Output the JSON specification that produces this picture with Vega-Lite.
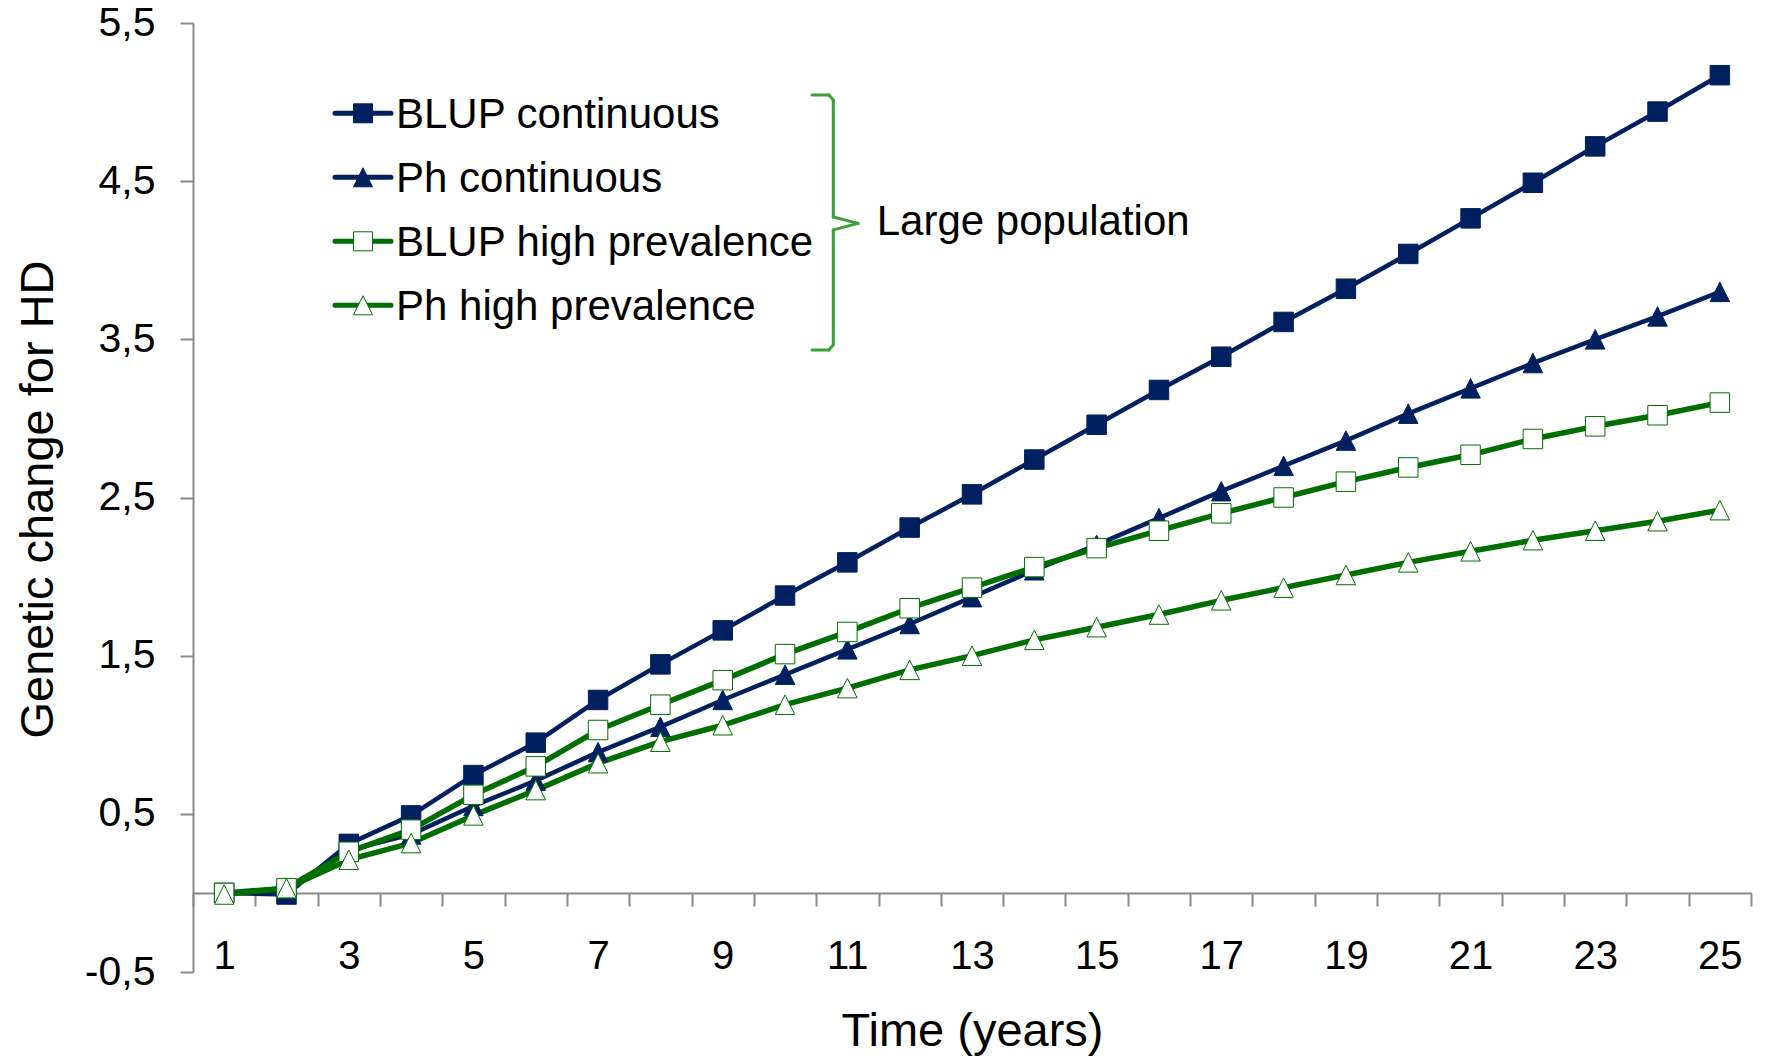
{
  "$schema": "https://vega.github.io/schema/vega-lite/v6.json",
  "width": 1558,
  "height": 949,
  "autosize": {"type": "none"},
  "padding": {"left": 193, "top": 23, "right": 15, "bottom": 85},
  "config": {"view": {"stroke": null}, "font": "Liberation Sans"},
  "data": {"values": [
    {"s":"BLUP continuous","t":1,"v":0},{"s":"BLUP continuous","t":2,"v":-0.01},{"s":"BLUP continuous","t":3,"v":0.31},{"s":"BLUP continuous","t":4,"v":0.49},{"s":"BLUP continuous","t":5,"v":0.745},{"s":"BLUP continuous","t":6,"v":0.95},{"s":"BLUP continuous","t":7,"v":1.22},{"s":"BLUP continuous","t":8,"v":1.445},{"s":"BLUP continuous","t":9,"v":1.66},{"s":"BLUP continuous","t":10,"v":1.88},{"s":"BLUP continuous","t":11,"v":2.09},{"s":"BLUP continuous","t":12,"v":2.31},{"s":"BLUP continuous","t":13,"v":2.52},{"s":"BLUP continuous","t":14,"v":2.74},{"s":"BLUP continuous","t":15,"v":2.96},{"s":"BLUP continuous","t":16,"v":3.18},{"s":"BLUP continuous","t":17,"v":3.39},{"s":"BLUP continuous","t":18,"v":3.61},{"s":"BLUP continuous","t":19,"v":3.82},{"s":"BLUP continuous","t":20,"v":4.04},{"s":"BLUP continuous","t":21,"v":4.265},{"s":"BLUP continuous","t":22,"v":4.49},{"s":"BLUP continuous","t":23,"v":4.72},{"s":"BLUP continuous","t":24,"v":4.94},{"s":"BLUP continuous","t":25,"v":5.17},
    {"s":"Ph continuous","t":1,"v":0},{"s":"Ph continuous","t":2,"v":0.01},{"s":"Ph continuous","t":3,"v":0.27},{"s":"Ph continuous","t":4,"v":0.37},{"s":"Ph continuous","t":5,"v":0.55},{"s":"Ph continuous","t":6,"v":0.71},{"s":"Ph continuous","t":7,"v":0.89},{"s":"Ph continuous","t":8,"v":1.05},{"s":"Ph continuous","t":9,"v":1.22},{"s":"Ph continuous","t":10,"v":1.38},{"s":"Ph continuous","t":11,"v":1.54},{"s":"Ph continuous","t":12,"v":1.7},{"s":"Ph continuous","t":13,"v":1.87},{"s":"Ph continuous","t":14,"v":2.04},{"s":"Ph continuous","t":15,"v":2.2},{"s":"Ph continuous","t":16,"v":2.37},{"s":"Ph continuous","t":17,"v":2.54},{"s":"Ph continuous","t":18,"v":2.7},{"s":"Ph continuous","t":19,"v":2.86},{"s":"Ph continuous","t":20,"v":3.03},{"s":"Ph continuous","t":21,"v":3.19},{"s":"Ph continuous","t":22,"v":3.35},{"s":"Ph continuous","t":23,"v":3.5},{"s":"Ph continuous","t":24,"v":3.645},{"s":"Ph continuous","t":25,"v":3.8},
    {"s":"BLUP high prevalence","t":1,"v":0},{"s":"BLUP high prevalence","t":2,"v":0.03},{"s":"BLUP high prevalence","t":3,"v":0.26},{"s":"BLUP high prevalence","t":4,"v":0.4},{"s":"BLUP high prevalence","t":5,"v":0.62},{"s":"BLUP high prevalence","t":6,"v":0.8},{"s":"BLUP high prevalence","t":7,"v":1.03},{"s":"BLUP high prevalence","t":8,"v":1.19},{"s":"BLUP high prevalence","t":9,"v":1.345},{"s":"BLUP high prevalence","t":10,"v":1.51},{"s":"BLUP high prevalence","t":11,"v":1.65},{"s":"BLUP high prevalence","t":12,"v":1.8},{"s":"BLUP high prevalence","t":13,"v":1.93},{"s":"BLUP high prevalence","t":14,"v":2.06},{"s":"BLUP high prevalence","t":15,"v":2.18},{"s":"BLUP high prevalence","t":16,"v":2.29},{"s":"BLUP high prevalence","t":17,"v":2.4},{"s":"BLUP high prevalence","t":18,"v":2.5},{"s":"BLUP high prevalence","t":19,"v":2.6},{"s":"BLUP high prevalence","t":20,"v":2.69},{"s":"BLUP high prevalence","t":21,"v":2.77},{"s":"BLUP high prevalence","t":22,"v":2.87},{"s":"BLUP high prevalence","t":23,"v":2.95},{"s":"BLUP high prevalence","t":24,"v":3.02},{"s":"BLUP high prevalence","t":25,"v":3.1},
    {"s":"Ph high prevalence","t":1,"v":-0.01},{"s":"Ph high prevalence","t":2,"v":0.03},{"s":"Ph high prevalence","t":3,"v":0.21},{"s":"Ph high prevalence","t":4,"v":0.315},{"s":"Ph high prevalence","t":5,"v":0.49},{"s":"Ph high prevalence","t":6,"v":0.65},{"s":"Ph high prevalence","t":7,"v":0.82},{"s":"Ph high prevalence","t":8,"v":0.956},{"s":"Ph high prevalence","t":9,"v":1.06},{"s":"Ph high prevalence","t":10,"v":1.19},{"s":"Ph high prevalence","t":11,"v":1.295},{"s":"Ph high prevalence","t":12,"v":1.41},{"s":"Ph high prevalence","t":13,"v":1.5},{"s":"Ph high prevalence","t":14,"v":1.6},{"s":"Ph high prevalence","t":15,"v":1.68},{"s":"Ph high prevalence","t":16,"v":1.76},{"s":"Ph high prevalence","t":17,"v":1.85},{"s":"Ph high prevalence","t":18,"v":1.93},{"s":"Ph high prevalence","t":19,"v":2.01},{"s":"Ph high prevalence","t":20,"v":2.09},{"s":"Ph high prevalence","t":21,"v":2.16},{"s":"Ph high prevalence","t":22,"v":2.23},{"s":"Ph high prevalence","t":23,"v":2.29},{"s":"Ph high prevalence","t":24,"v":2.35},{"s":"Ph high prevalence","t":25,"v":2.42}
  ]},
  "layer": [
    {
      "layer": [
        {
          "transform": [{"filter": "indexof(['BLUP continuous','Ph continuous'], datum.s) >= 0"}],
          "mark": {"type": "line", "strokeWidth": 4.5, "strokeJoin": "round", "strokeCap": "round"},
          "encoding": {
            "x": {"field": "t", "type": "quantitative",
              "scale": {"domain": [0.5, 25.5], "nice": false, "zero": false},
              "axis": {
                "values": [0.5,1,1.5,2.5,3,3.5,4.5,5,5.5,6.5,7,7.5,8.5,9,9.5,10.5,11,11.5,12.5,13,13.5,14.5,15,15.5,16.5,17,17.5,18.5,19,19.5,20.5,21,21.5,22.5,23,23.5,24.5,25,25.5],
                "labelExpr": "datum.value % 1 === 0 ? toString(datum.value) : ''",
                "tickOpacity": {"condition": {"test": "datum.value % 1 === 0", "value": 0}, "value": 1},
                "offset": -79,
                "grid": false,
                "tickSize": 13, "tickWidth": 2, "tickColor": "#898989",
                "domainColor": "#898989", "domainWidth": 2,
                "labelFont": "Liberation Sans", "labelFontSize": 40, "labelColor": "black",
                "labelPadding": 30, "labelFlush": false, "labelOverlap": false, "labelBound": false,
                "title": "Time (years)", "titleFont": "Liberation Sans", "titleFontSize": 47,
                "titleFontWeight": "normal", "titleColor": "black",
                "titleX": 779, "titleY": 152, "titleBaseline": "alphabetic", "titleAlign": "center"
              }},
            "y": {"field": "v", "type": "quantitative",
              "scale": {"domain": [-0.5, 5.5], "nice": false, "zero": false},
              "axis": {
                "values": [-0.5, 0.5, 1.5, 2.5, 3.5, 4.5, 5.5],
                "labelExpr": "replace(toString(datum.value), '.', ',')",
                "grid": false,
                "tickSize": 13, "tickWidth": 2, "tickColor": "#898989",
                "domainColor": "#898989", "domainWidth": 2,
                "labelFont": "Liberation Sans", "labelFontSize": 41, "labelColor": "black",
                "labelPadding": 25,
                "title": "Genetic change for HD", "titleFont": "Liberation Sans", "titleFontSize": 47,
                "titleFontWeight": "normal", "titleColor": "black",
                "titleX": -141, "titleY": 476, "titleBaseline": "alphabetic", "titleAlign": "center"
              }},
            "stroke": {"field": "s", "type": "nominal",
              "scale": {"domain": ["BLUP continuous", "Ph continuous", "BLUP high prevalence", "Ph high prevalence"],
                        "range": ["#002060", "#002060", "#006E00", "#006E00"]},
              "legend": null}
          }
        },
        {
          "transform": [{"filter": "indexof(['BLUP high prevalence','Ph high prevalence'], datum.s) >= 0"}],
          "mark": {"type": "line", "strokeWidth": 5.5, "strokeJoin": "round", "strokeCap": "round"},
          "encoding": {
            "x": {"field": "t", "type": "quantitative"},
            "y": {"field": "v", "type": "quantitative"},
            "stroke": {"field": "s", "type": "nominal", "legend": null}
          }
        },
        {
          "mark": {"type": "point", "filled": true, "opacity": 1, "size": 380},
          "encoding": {
            "x": {"field": "t", "type": "quantitative"},
            "y": {"field": "v", "type": "quantitative"},
            "stroke": {"field": "s", "type": "nominal", "legend": null},
            "fill": {"field": "s", "type": "nominal",
              "scale": {"domain": ["BLUP continuous", "Ph continuous", "BLUP high prevalence", "Ph high prevalence"],
                        "range": ["#002060", "#002060", "#ffffff", "#ffffff"]},
              "legend": null},
            "shape": {"field": "s", "type": "nominal",
              "scale": {"domain": ["BLUP continuous", "Ph continuous", "BLUP high prevalence", "Ph high prevalence"],
                        "range": ["square", "M0,-1L1,1L-1,1Z", "square", "M0,-1L1,1L-1,1Z"]},
              "legend": null},
            "strokeWidth": {"field": "s", "type": "ordinal",
              "scale": {"domain": ["BLUP continuous", "Ph continuous", "BLUP high prevalence", "Ph high prevalence"],
                        "range": [1, 1, 2, 2]},
              "legend": null}
          }
        },
        {"data": {"values": [{}]}, "mark": {"type": "rule", "color": "#3A9E3A", "strokeWidth": 3, "strokeCap": "round"},
         "encoding": {"x": {"datum": 10.432}, "x2": {"datum": 10.705}, "y": {"datum": 5.045}, "y2": {"datum": 5.045}}},
        {"data": {"values": [{}]}, "mark": {"type": "rule", "color": "#3A9E3A", "strokeWidth": 3, "strokeCap": "round"},
         "encoding": {"x": {"datum": 10.705}, "x2": {"datum": 10.774}, "y": {"datum": 5.045}, "y2": {"datum": 5.013}}},
        {"data": {"values": [{}]}, "mark": {"type": "rule", "color": "#3A9E3A", "strokeWidth": 3, "strokeCap": "round"},
         "encoding": {"x": {"datum": 10.774}, "x2": {"datum": 10.774}, "y": {"datum": 5.013}, "y2": {"datum": 4.273}}},
        {"data": {"values": [{}]}, "mark": {"type": "rule", "color": "#3A9E3A", "strokeWidth": 3, "strokeCap": "round"},
         "encoding": {"x": {"datum": 10.774}, "x2": {"datum": 11.171}, "y": {"datum": 4.273}, "y2": {"datum": 4.233}}},
        {"data": {"values": [{}]}, "mark": {"type": "rule", "color": "#3A9E3A", "strokeWidth": 3, "strokeCap": "round"},
         "encoding": {"x": {"datum": 11.171}, "x2": {"datum": 10.774}, "y": {"datum": 4.233}, "y2": {"datum": 4.192}}},
        {"data": {"values": [{}]}, "mark": {"type": "rule", "color": "#3A9E3A", "strokeWidth": 3, "strokeCap": "round"},
         "encoding": {"x": {"datum": 10.774}, "x2": {"datum": 10.774}, "y": {"datum": 4.192}, "y2": {"datum": 3.465}}},
        {"data": {"values": [{}]}, "mark": {"type": "rule", "color": "#3A9E3A", "strokeWidth": 3, "strokeCap": "round"},
         "encoding": {"x": {"datum": 10.774}, "x2": {"datum": 10.705}, "y": {"datum": 3.465}, "y2": {"datum": 3.433}}},
        {"data": {"values": [{}]}, "mark": {"type": "rule", "color": "#3A9E3A", "strokeWidth": 3, "strokeCap": "round"},
         "encoding": {"x": {"datum": 10.705}, "x2": {"datum": 10.432}, "y": {"datum": 3.433}, "y2": {"datum": 3.433}}},
        {"data": {"values": [{}]}, "mark": {"type": "text", "font": "Liberation Sans", "fontSize": 42, "color": "black", "align": "left", "baseline": "alphabetic"},
         "encoding": {"x": {"datum": 11.471}, "y": {"datum": 4.159}, "text": {"value": "Large population"}}}
      ]
    },
    {
      "transform": [{"filter": "datum.t === 1"}],
      "encoding": {
        "y": {"field": "s", "type": "nominal",
          "scale": {"type": "point", "domain": ["BLUP continuous", "Ph continuous", "BLUP high prevalence", "Ph high prevalence"],
                    "range": [90.3, 282.3], "padding": 0},
          "axis": null}
      },
      "layer": [
        {"mark": {"type": "rule", "strokeWidth": 5, "strokeCap": "round"},
         "encoding": {"x": {"datum": 2.7785}, "x2": {"datum": 3.677},
                      "stroke": {"field": "s", "type": "nominal", "legend": null}}},
        {"mark": {"type": "point", "filled": true, "opacity": 1, "size": 361},
         "encoding": {"x": {"datum": 3.228},
                      "stroke": {"field": "s", "type": "nominal", "legend": null},
                      "fill": {"field": "s", "type": "nominal", "legend": null},
                      "shape": {"field": "s", "type": "nominal", "legend": null},
                      "strokeWidth": {"field": "s", "type": "ordinal", "legend": null}}},
        {"mark": {"type": "text", "font": "Liberation Sans", "fontSize": 42, "color": "black", "align": "left", "baseline": "middle", "dy": 2},
         "encoding": {"x": {"datum": 3.757}, "text": {"field": "s"}}}
      ]
    }
  ],
  "resolve": {"scale": {"y": "independent"}}
}
